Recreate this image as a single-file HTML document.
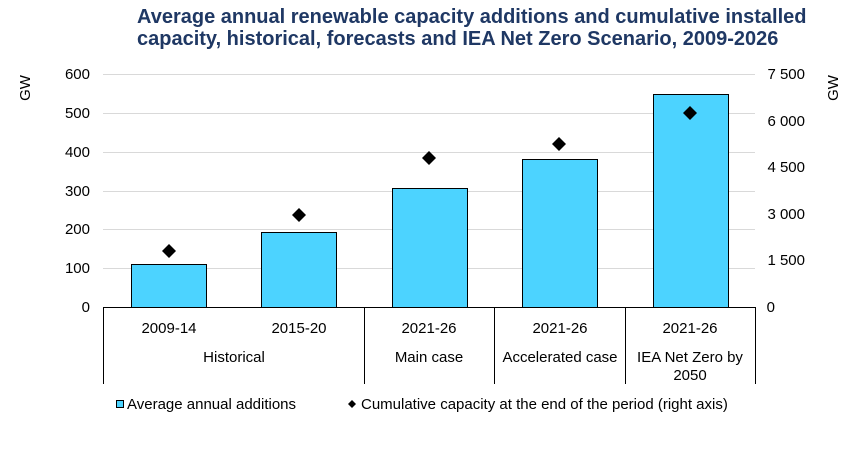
<!DOCTYPE html>
<html><head><style>
body{margin:0;background:#fff;font-family:"Liberation Sans",sans-serif;}
</style></head><body>
<svg width="857" height="450" xmlns="http://www.w3.org/2000/svg" font-family="Liberation Sans, sans-serif">
<text x="137" y="23" font-size="20" font-weight="bold" fill="#1f3864">Average annual renewable capacity additions and cumulative installed</text>
<text x="137" y="45" font-size="20" font-weight="bold" fill="#1f3864">capacity, historical, forecasts and IEA Net Zero Scenario, 2009-2026</text>
<g stroke="#d9d9d9" stroke-width="1">
<line x1="103" x2="755" y1="74.5" y2="74.5"/><line x1="103" x2="755" y1="113.5" y2="113.5"/>
<line x1="103" x2="755" y1="152.5" y2="152.5"/><line x1="103" x2="755" y1="191.5" y2="191.5"/>
<line x1="103" x2="755" y1="229.5" y2="229.5"/><line x1="103" x2="755" y1="268.5" y2="268.5"/>
</g>
<g font-size="15" fill="#000" text-anchor="end">
<text x="90" y="79">600</text><text x="90" y="118">500</text><text x="90" y="157">400</text>
<text x="90" y="196">300</text><text x="90" y="234">200</text><text x="90" y="273">100</text><text x="90" y="312">0</text>
</g>
<g font-size="15" fill="#000" text-anchor="end">
<text x="805" y="79">7 500</text><text x="805" y="126">6 000</text><text x="805" y="172">4 500</text>
<text x="805" y="219">3 000</text><text x="805" y="265">1 500</text><text x="775" y="312">0</text>
</g>
<text transform="translate(30,88) rotate(-90)" font-size="15" text-anchor="middle">GW</text>
<text transform="translate(838,88) rotate(-90)" font-size="15" text-anchor="middle">GW</text>
<g fill="#4cd3ff" stroke="#000" stroke-width="1">
<rect x="131.5" y="264.5" width="75" height="43"/>
<rect x="261.5" y="232.5" width="75" height="75"/>
<rect x="392.5" y="188.5" width="75" height="119"/>
<rect x="522.5" y="159.5" width="75" height="148"/>
<rect x="653.5" y="94.5" width="75" height="213"/>
</g>
<g fill="#000">
<path d="M169 244 l7 7 -7 7 -7 -7z"/>
<path d="M299 208 l7 7 -7 7 -7 -7z"/>
<path d="M429 151 l7 7 -7 7 -7 -7z"/>
<path d="M559 137 l7 7 -7 7 -7 -7z"/>
<path d="M690 106 l7 7 -7 7 -7 -7z"/>
</g>
<g stroke="#000" stroke-width="1">
<line x1="103" x2="755" y1="307.5" y2="307.5"/>
<line x1="103.5" x2="103.5" y1="307" y2="384"/>
<line x1="364.5" x2="364.5" y1="307" y2="384"/>
<line x1="494.5" x2="494.5" y1="307" y2="384"/>
<line x1="625.5" x2="625.5" y1="307" y2="384"/>
<line x1="755.5" x2="755.5" y1="307" y2="384"/>
</g>
<g font-size="15" text-anchor="middle">
<text x="169" y="333">2009-14</text><text x="299" y="333">2015-20</text>
<text x="429" y="333">2021-26</text><text x="560" y="333">2021-26</text><text x="690" y="333">2021-26</text>
<text x="234" y="362">Historical</text><text x="429" y="362">Main case</text>
<text x="560" y="362">Accelerated case</text><text x="690" y="362">IEA Net Zero by</text>
<text x="690" y="380">2050</text>
</g>
<rect x="116.5" y="400.5" width="7" height="7" fill="#4cd3ff" stroke="#000"/>
<text x="127" y="409" font-size="15">Average annual additions</text>
<path d="M352 400 l4 4 -4 4 -4 -4z" fill="#000"/>
<text x="361" y="409" font-size="15">Cumulative capacity at the end of the period (right axis)</text>
</svg>
</body></html>
